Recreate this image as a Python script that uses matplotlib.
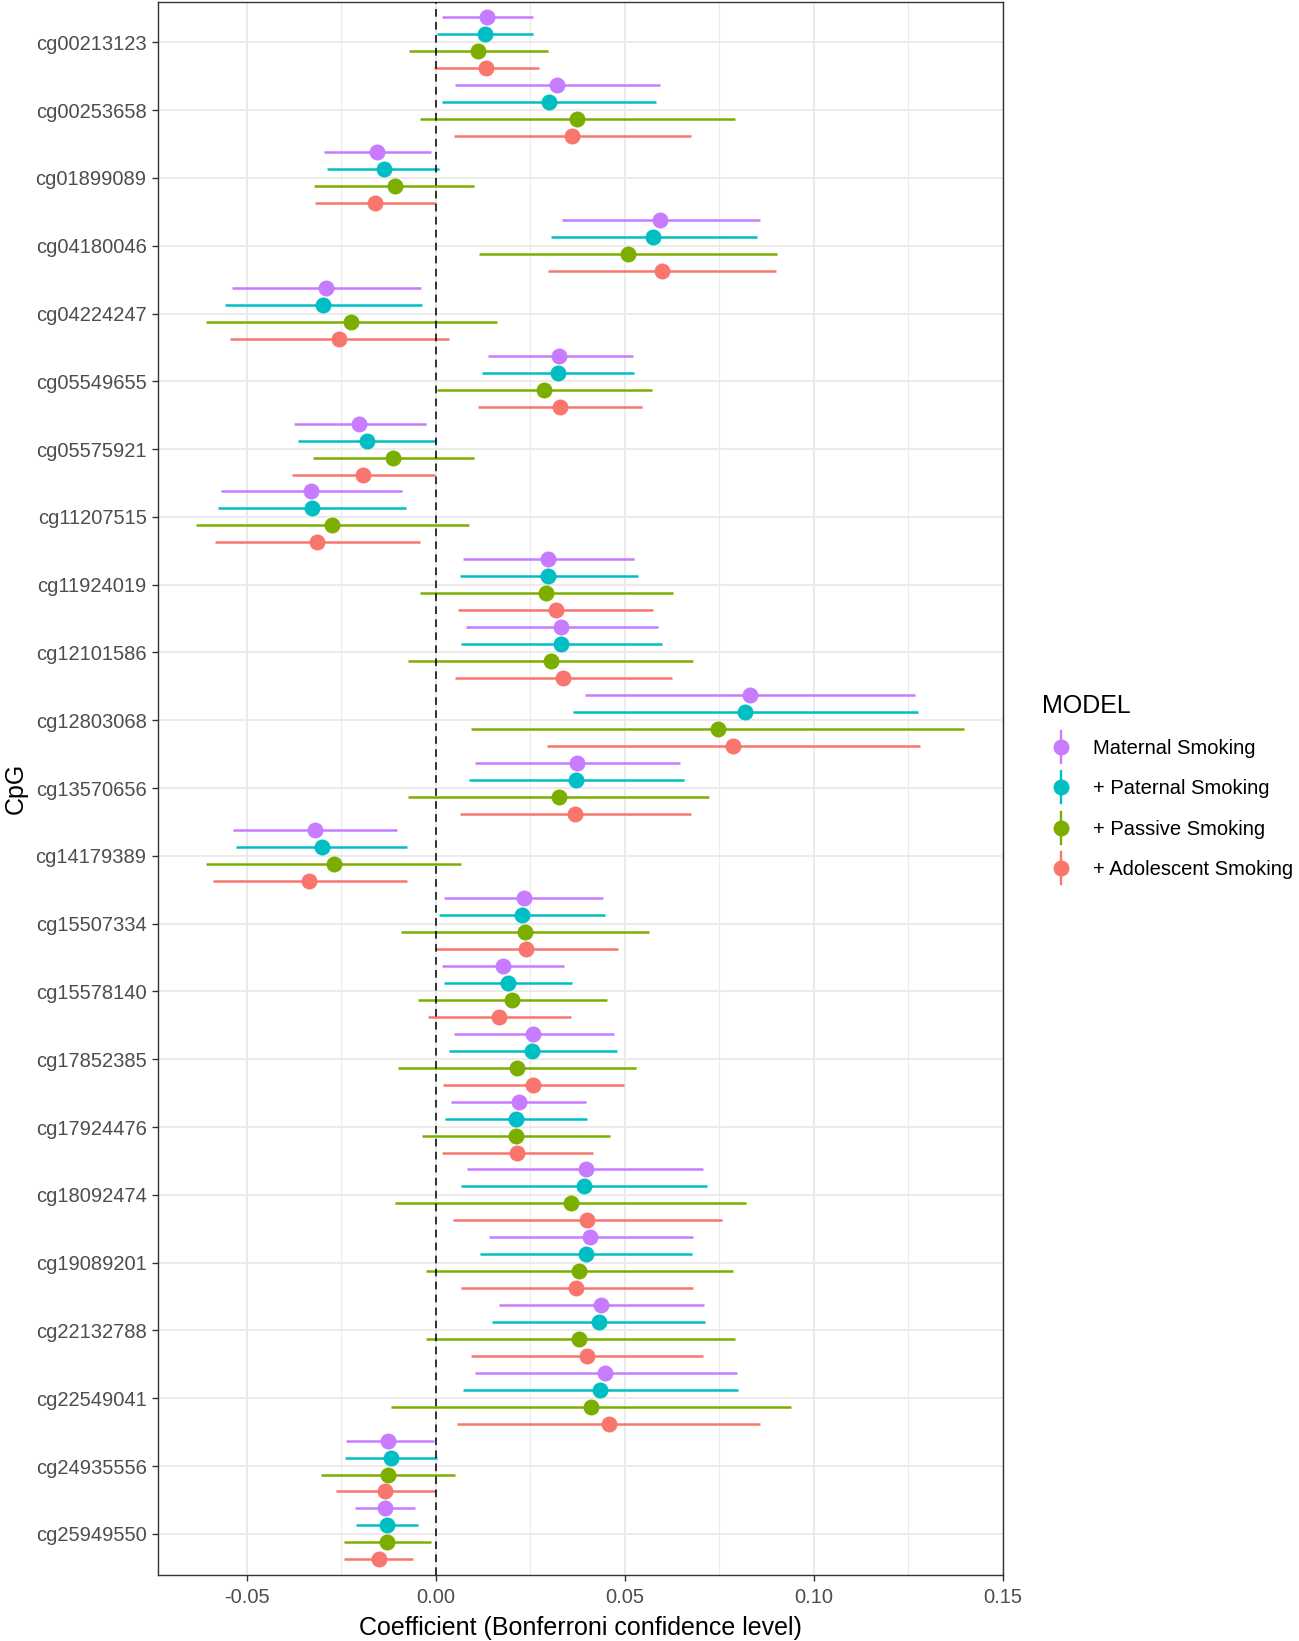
import numpy as np
import matplotlib
matplotlib.use('Agg')
import matplotlib.pyplot as plt
from matplotlib.lines import Line2D

plt.rcParams['font.family'] = ['Liberation Sans', 'DejaVu Sans']

# CpG sites, top to bottom
cpgs = ['cg00213123', 'cg00253658', 'cg01899089', 'cg04180046', 'cg04224247',
        'cg05549655', 'cg05575921', 'cg11207515', 'cg11924019', 'cg12101586',
        'cg12803068', 'cg13570656', 'cg14179389', 'cg15507334', 'cg15578140',
        'cg17852385', 'cg17924476', 'cg18092474', 'cg19089201', 'cg22132788',
        'cg22549041', 'cg24935556', 'cg25949550']

models = ['Maternal Smoking', '+ Paternal Smoking', '+ Passive Smoking', '+ Adolescent Smoking']
model_colors = ['#C77CFF', '#00BFC4', '#7CAE00', '#F8766D']

# estimates and Bonferroni CI bounds
maternal_est = [0.0135, 0.0322, -0.0155, 0.0594, -0.0290, 0.0327, -0.0203, -0.0330, 0.0296, 0.0331, 0.0831, 0.0375,
                -0.0320, 0.0233, 0.0177, 0.0257, 0.0219, 0.0397, 0.0409, 0.0438, 0.0447, -0.0125, -0.0135]
maternal_lo = [0.0016, 0.0051, -0.0296, 0.0334, -0.0539, 0.0137, -0.0376, -0.0569, 0.0071, 0.0079, 0.0394, 0.0104,
               -0.0536, 0.0023, 0.0016, 0.0047, 0.0041, 0.0083, 0.0140, 0.0167, 0.0103, -0.0238, -0.0213]
maternal_hi = [0.0257, 0.0594, -0.0012, 0.0857, -0.0038, 0.0521, -0.0026, -0.0090, 0.0524, 0.0587, 0.1268, 0.0647,
               -0.0103, 0.0443, 0.0339, 0.0472, 0.0398, 0.0706, 0.0680, 0.0710, 0.0798, -0.0005, -0.0056]

paternal_est = [0.0131, 0.0300, -0.0138, 0.0576, -0.0298, 0.0323, -0.0182, -0.0328, 0.0298, 0.0331, 0.0818, 0.0371,
                -0.0301, 0.0227, 0.0192, 0.0256, 0.0212, 0.0393, 0.0397, 0.0431, 0.0435, -0.0119, -0.0130]
paternal_lo = [0.0003, 0.0016, -0.0287, 0.0304, -0.0557, 0.0123, -0.0365, -0.0577, 0.0063, 0.0066, 0.0364, 0.0088,
               -0.0528, 0.0008, 0.0023, 0.0034, 0.0025, 0.0066, 0.0116, 0.0148, 0.0071, -0.0241, -0.0212]
paternal_hi = [0.0257, 0.0584, 0.0008, 0.0851, -0.0036, 0.0524, 0.0000, -0.0079, 0.0536, 0.0598, 0.1275, 0.0657,
               -0.0075, 0.0447, 0.0361, 0.0480, 0.0401, 0.0718, 0.0677, 0.0712, 0.0800, 0.0004, -0.0047]

passive_est = [0.0111, 0.0375, -0.0109, 0.0509, -0.0224, 0.0286, -0.0112, -0.0274, 0.0291, 0.0304, 0.0746, 0.0326,
               -0.0268, 0.0237, 0.0203, 0.0215, 0.0212, 0.0359, 0.0379, 0.0380, 0.0411, -0.0127, -0.0129]
passive_lo = [-0.0071, -0.0041, -0.0322, 0.0115, -0.0609, 0.0003, -0.0326, -0.0634, -0.0041, -0.0073, 0.0092, -0.0073,
              -0.0608, -0.0092, -0.0048, -0.0099, -0.0036, -0.0107, -0.0026, -0.0027, -0.0118, -0.0304, -0.0242]
passive_hi = [0.0296, 0.0792, 0.0101, 0.0902, 0.0161, 0.0572, 0.0101, 0.0088, 0.0628, 0.0680, 0.1398, 0.0724,
              0.0067, 0.0565, 0.0453, 0.0530, 0.0460, 0.0821, 0.0787, 0.0792, 0.0940, 0.0052, -0.0012]

adolescent_est = [0.0133, 0.0361, -0.0160, 0.0598, -0.0255, 0.0328, -0.0192, -0.0315, 0.0317, 0.0337, 0.0787, 0.0369,
                  -0.0334, 0.0238, 0.0168, 0.0257, 0.0215, 0.0401, 0.0372, 0.0400, 0.0458, -0.0133, -0.0151]
adolescent_lo = [-0.0005, 0.0048, -0.0320, 0.0298, -0.0545, 0.0112, -0.0379, -0.0584, 0.0060, 0.0052, 0.0294, 0.0063,
                 -0.0590, -0.0003, -0.0021, 0.0018, 0.0016, 0.0045, 0.0066, 0.0092, 0.0057, -0.0265, -0.0242]
adolescent_hi = [0.0272, 0.0676, 0.0000, 0.0899, 0.0036, 0.0547, -0.0003, -0.0042, 0.0576, 0.0624, 0.1282, 0.0676,
                 -0.0077, 0.0482, 0.0357, 0.0499, 0.0416, 0.0757, 0.0681, 0.0707, 0.0858, 0.0000, -0.0059]

estimates = [maternal_est, paternal_est, passive_est, adolescent_est]
lowers = [maternal_lo, paternal_lo, passive_lo, adolescent_lo]
uppers = [maternal_hi, paternal_hi, passive_hi, adolescent_hi]

xticks = [-0.05, 0.0, 0.05, 0.10, 0.15]
xtick_labels = ['-0.05', '0.00', '0.05', '0.10', '0.15']


class PointRangeKey:
    """legend key like ggplot's pointrange: vertical bar with a dot"""
    def legend_artist(self, legend, orig_handle, fontsize, handlebox):
        cx = handlebox.width / 2 - handlebox.xdescent
        cy = handlebox.height / 2 - handlebox.ydescent
        c = orig_handle.get_color()
        half = 11.5
        bar = Line2D([cx, cx], [cy - half, cy + half], color=c, lw=1.7,
                     transform=handlebox.get_transform())
        dot = Line2D([cx], [cy], marker='o', color=c, markersize=11.5, mew=0,
                     linestyle='None', transform=handlebox.get_transform())
        handlebox.add_artist(bar)
        handlebox.add_artist(dot)
        return dot


fig = plt.figure(figsize=(12.99, 16.41), dpi=100)
ax = fig.add_axes([0.1214, 0.0405, 0.6505, 0.9585])

ypos = np.arange(len(cpgs))
n_mod = len(models)
dodge = 1.0 / n_mod
for k in range(n_mod):
    y = ypos + (k - (n_mod - 1) / 2) * dodge
    ax.hlines(y, lowers[k], uppers[k], color=model_colors[k], lw=1.8, zorder=3)
    ax.plot(estimates[k], y, 'o', color=model_colors[k], markersize=11.5, mew=0, zorder=5)

ax.axvline(0, color='black', lw=1.1, linestyle=(0, (5, 3.5)), zorder=4)

# ggplot style expansion
lo_all = np.min(lowers)
hi_all = np.max(uppers)
pad = 0.05 * (hi_all - lo_all)
ax.set_xlim(lo_all - pad, hi_all + pad)
ax.set_ylim(len(cpgs) - 1 + 0.6, -0.6)

ax.set_xticks(xticks)
ax.set_xticklabels(xtick_labels)
ax.set_xticks([-0.025, 0.025, 0.075, 0.125], minor=True)
ax.set_yticks(ypos)
ax.set_yticklabels(cpgs)

ax.grid(which='major', axis='both', color='#EBEBEB', lw=1.4)
ax.grid(which='minor', axis='x', color='#EBEBEB', lw=0.8)
ax.set_axisbelow(True)
ax.tick_params(which='major', length=4.5, width=1.0, color='#333333',
               labelcolor='#4D4D4D', labelsize=14.5, pad=3.5)
ax.tick_params(axis='x', which='major', pad=5.5)
ax.tick_params(which='minor', length=0)
for sp in ax.spines.values():
    sp.set_color('#333333')
    sp.set_linewidth(1.0)

ax.set_xlabel('Coefficient (Bonferroni confidence level)', fontsize=18, labelpad=6)
ax.set_ylabel('CpG', fontsize=18, labelpad=6)

handles = [Line2D([], [], color=c) for c in model_colors]
fig.legend(handles, models, loc='upper left', bbox_to_anchor=(0.802, 0.577),
           title='MODEL', frameon=False, fontsize=14.5, title_fontsize=18,
           alignment='left', handlelength=1.92, handletextpad=0.63,
           labelspacing=1.05, borderpad=0, borderaxespad=0,
           handler_map={Line2D: PointRangeKey()})

fig.savefig('out.png', dpi=100)
